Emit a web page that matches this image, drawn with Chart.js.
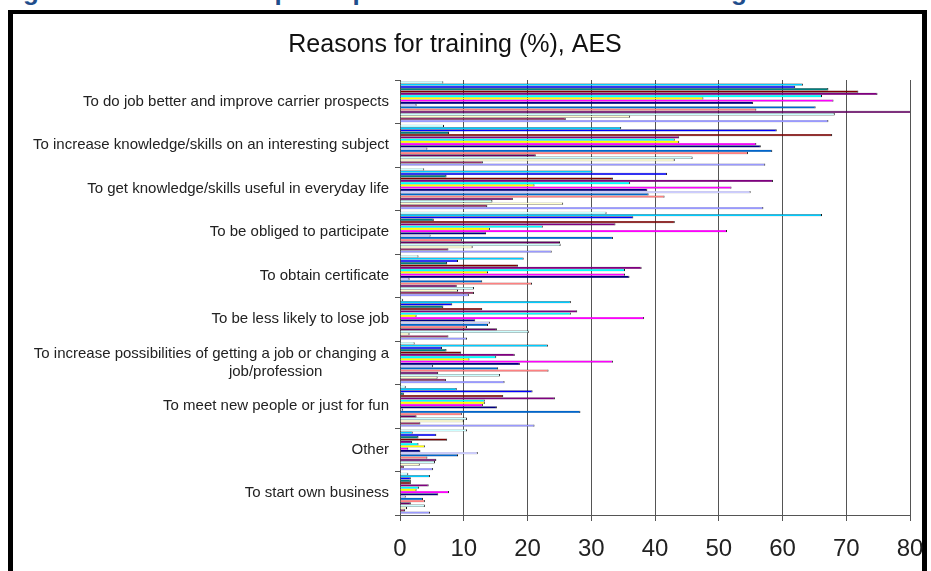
<!DOCTYPE html>
<html>
<head>
<meta charset="utf-8">
<script src="https://cdn.jsdelivr.net/npm/chart.js@4.4.1/dist/chart.umd.min.js"></script>
<style>
  html, body { margin: 0; padding: 0; background: #fff; }
  #page { position: relative; width: 931px; height: 571px; overflow: hidden; background: #fff; }
  #heading {
    position: absolute; left: 0; top: -22px; white-space: nowrap;
    font: bold 26px "Liberation Sans", Arial, sans-serif; line-height: 26px; color: #1f4e8c;
  }
  #frame {
    position: absolute; left: 8px; top: 10px; width: 919px; height: 640px;
    border: 5px solid #000; border-top-width: 4px; box-sizing: border-box;
  }
  #chart { position: absolute; left: 0; top: 0; }
</style>
</head>
<body>
<div id="page">
  <div id="heading">Figure 9: Reasons for participation in education and training</div>
  <div id="frame"></div>
  <canvas id="chart" width="931" height="571"></canvas>
</div>
<script>
// Reasons for training, listed top to bottom as they appear on the axis
const categories = [
  "To do job better and improve carrier prospects",
  "To increase knowledge/skills on an interesting subject",
  "To get knowledge/skills useful in everyday life",
  "To be obliged to participate",
  "To obtain certificate",
  "To be less likely to lose job",
  ["To increase possibilities of getting a job or changing a", "job/profession                "],
  "To meet new people or just for fun",
  "Other",
  "To start own business"
];

// Share of participants (%) per reason, one array per country series
const series01 = [67.2, 57.3, 57.0, 23.8, 10.8, 10.5, 16.4, 21.1, 5.2, 4.7];
const series02 = [26.0, 13.0, 13.7, 7.6, 11.6, 7.6, 7.2, 3.2, 0.6, 0.8];
const series03 = [36.1, 43.1, 25.6, 11.4, 9.1, 1.5, 5.9, 10.0, 3.1, 1.1];
const series04 = [68.2, 45.9, 14.5, 25.2, 11.6, 20.2, 15.7, 10.5, 5.5, 3.9];
const series05 = [80.3, 21.3, 17.7, 25.1, 8.9, 15.2, 6.0, 2.6, 5.7, 1.7];
const series06 = [55.9, 54.6, 41.5, 9.7, 20.7, 10.5, 23.3, 9.7, 4.3, 3.9];
const series07 = [65.2, 58.4, 39.0, 33.4, 12.9, 13.8, 15.4, 28.3, 9.1, 3.6];
const series08 = [2.6, 4.3, 55.0, 4.8, 1.5, 14.1, 5.2, 0.5, 12.2, 0.9];
const series09 = [55.4, 56.6, 38.8, 13.5, 36.0, 11.8, 18.8, 15.2, 3.2, 6.0];
const series10 = [68.0, 55.9, 52.0, 51.3, 35.3, 38.3, 33.4, 13.0, 1.3, 7.7];
const series11 = [47.6, 43.8, 21.1, 14.1, 13.8, 2.6, 10.9, 13.3, 3.9, 2.6];
const series12 = [66.2, 43.1, 36.1, 22.4, 35.3, 26.8, 15.1, 13.3, 2.9, 3.0];
const series13 = [74.9, 43.8, 58.5, 33.8, 37.9, 27.8, 18.0, 24.3, 1.9, 4.5];
const series14 = [71.9, 67.8, 33.4, 43.1, 18.5, 12.9, 9.6, 16.2, 7.4, 1.7];
const series15 = [67.2, 7.7, 7.3, 5.3, 7.4, 6.8, 7.3, 0.6, 2.9, 1.7];
const series16 = [62.0, 59.1, 41.9, 36.6, 9.1, 8.2, 6.6, 20.8, 5.7, 1.7];
const series17 = [63.2, 34.7, 30.2, 66.2, 19.4, 26.8, 23.2, 8.9, 2.0, 4.7];
const series18 = [6.8, 6.9, 3.8, 32.4, 2.9, 0.5, 2.3, 0.9, 10.5, 1.3];

const xTicks = [0, 10, 20, 30, 40, 50, 60, 70, 80];

// Classic office palette, series 1..18
const palette = [
  "#9999ff", "#993366", "#ffffcc", "#ccffff", "#660066", "#ff8080",
  "#0066cc", "#ccccff", "#000080", "#ff00ff", "#ffff00", "#00ffff",
  "#800080", "#800000", "#008080", "#0000ff", "#00ccff", "#ccffff"
];

const allSeries = [series01, series02, series03, series04, series05, series06,
  series07, series08, series09, series10, series11, series12,
  series13, series14, series15, series16, series17, series18];

// Series 1 sits at the bottom of each group, so feed them in reverse
const datasets = allSeries.map((values, i) => ({
  label: "Series " + (i + 1),
  data: values,
  backgroundColor: palette[i],
  borderColor: "rgba(0,0,0,0.9)",
  borderWidth: { top: 0.3, bottom: 0.3, right: 1, left: 0 },
  barPercentage: 1.0,
  categoryPercentage: 0.94
})).reverse();

const FONT = "'Liberation Sans', Arial, sans-serif";

new Chart(document.getElementById("chart"), {
  type: "bar",
  data: { labels: categories, datasets: datasets },
  options: {
    indexAxis: "y",
    responsive: false,
    devicePixelRatio: 1,
    animation: false,
    layout: { padding: { left: 0, right: 21, top: 0, bottom: 0 } },
    plugins: {
      legend: { display: false },
      tooltip: { enabled: false },
      title: {
        display: true,
        text: "Reasons for training (%), AES",
        color: "#111",
        font: { family: FONT, size: 25, weight: "normal" },
        padding: { top: 30, bottom: 20 }
      }
    },
    scales: {
      x: {
        min: 0, max: 80,
        afterBuildTicks: (scale) => { scale.ticks = xTicks.map(v => ({ value: v })); },
        afterFit: (scale) => {
          scale.height = 56;
          scale.paddingLeft = 0;
          scale.paddingRight = 0;
        },
        ticks: { color: "#222", font: { family: FONT, size: 24 }, padding: 14 },
        grid: { color: "#555", lineWidth: 1, tickLength: 6, drawTicks: true },
        border: { color: "#555", width: 1 }
      },
      y: {
        afterFit: (scale) => {
          scale.width = 400;
          scale.paddingTop = 0;
          scale.paddingBottom = 0;
        },
        ticks: { color: "#222", font: { family: FONT, size: 15 }, padding: 6, autoSkip: false },
        grid: { drawOnChartArea: false, drawTicks: true, tickLength: 5, color: "#555", offset: true },
        border: { color: "#555", width: 1 }
      }
    }
  }
});
</script>
</body>
</html>
